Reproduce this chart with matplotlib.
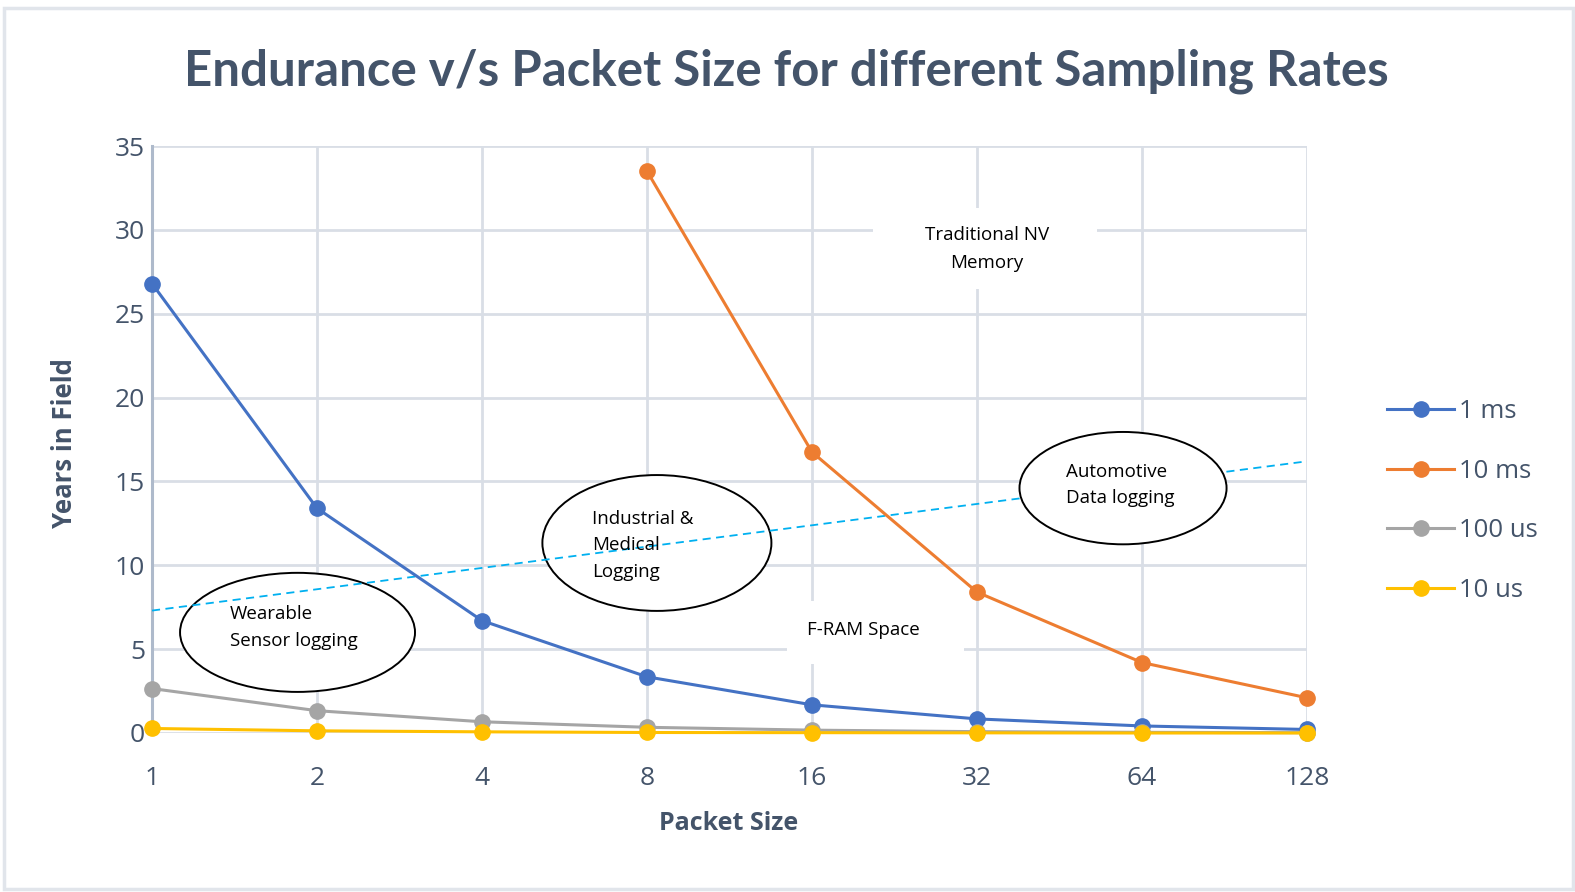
import numpy as np
import matplotlib
matplotlib.use("Agg")
import matplotlib.pyplot as plt
from matplotlib.patches import Ellipse, Rectangle
from matplotlib import font_manager

# ---------------- data ----------------
packet_sizes = ["1", "2", "4", "8", "16", "32", "64", "128"]
series_names = ["1 ms", "10 ms", "100 us", "10 us"]
years_1ms = [26.8, 13.4, 6.7, 3.35, 1.68, 0.84, 0.42, 0.21]
years_10ms = [np.nan, np.nan, np.nan, 33.5, 16.75, 8.4, 4.2, 2.1]
years_100us = [2.65, 1.33, 0.67, 0.34, 0.17, 0.08, 0.04, 0.02]
years_10us = [0.27, 0.13, 0.07, 0.03, 0.02, 0.01, 0.0, 0.0]
series_colors = ["#4472C4", "#ED7D31", "#A5A5A5", "#FFC000"]
y_ticks = [0, 5, 10, 15, 20, 25, 30, 35]

# boundary line (annotation) between F-RAM space and traditional NV memory
boundary_y = [7.3, 16.2]

title = "Endurance v/s Packet Size for different Sampling Rates"
xlabel = "Packet Size"
ylabel = "Years in Field"

# ---------------- fonts ----------------
avail = {f.name for f in font_manager.fontManager.ttflist}
title_font = "Liberation Sans Narrow" if "Liberation Sans Narrow" in avail else "Lato"
body_font = "Open Sans" if "Open Sans" in avail else "DejaVu Sans"
plt.rcParams["font.family"] = [body_font, "DejaVu Sans"]

axis_text = "#44546A"
grid_col = "#D9DEE6"

fig = plt.figure(figsize=(15.75, 8.92), dpi=100)
fig.patch.set_facecolor("white")

# outer chart border
fig.patches.append(Rectangle((4 / 1575, 1 - 889 / 892), (1573 - 4) / 1575, (889 - 8) / 892,
                             transform=fig.transFigure, fill=False,
                             edgecolor="#E1E5EB", linewidth=2.5, zorder=0))

ax = fig.add_axes([152 / 1575, 1 - 733 / 892, (1307 - 152) / 1575, (733 - 146) / 892])
x = np.arange(len(packet_sizes))

all_series = [years_1ms, years_10ms, years_100us, years_10us]
handles = []
for name, vals, col in zip(series_names, all_series, series_colors):
    h, = ax.plot(x, vals, color=col, lw=2.2, marker="o", markersize=11,
                 markeredgecolor=col, label=name, zorder=5, clip_on=False)
    handles.append(h)

ax.set_xlim(0, len(packet_sizes) - 1)
ax.set_ylim(0, 35)
ax.set_xticks(x)
ax.set_xticklabels(packet_sizes)
ax.set_yticks(y_ticks)
ax.tick_params(axis="both", length=0, labelsize=19, colors=axis_text)
ax.tick_params(axis="x", pad=24)
ax.tick_params(axis="y", pad=5)
ax.grid(True, color=grid_col, lw=2.0, zorder=0)
ax.set_axisbelow(True)
for s in ["top", "right", "bottom"]:
    ax.spines[s].set_visible(False)
ax.spines["left"].set_color("#AEBACB")
ax.spines["left"].set_linewidth(2.2)
ax.spines["left"].set_zorder(1)

# ellipses (annotation shapes)
ell_specs = [
    # (cx, cy, w, h, zorder)
    (0.882, 6.0, 1.424, 7.1, 2),
    (3.06, 11.33, 1.388, 8.1, 2),
    (5.885, 14.6, 1.255, 6.7, 4),
]
for cx, cy, w, h, z in ell_specs:
    ax.add_patch(Ellipse((cx, cy), w, h, facecolor="white", edgecolor="black",
                         lw=1.4, zorder=z))

# dashed boundary line
ax.plot([0, len(packet_sizes) - 1], boundary_y, color="#00B0F0", lw=1.3,
        ls=(0, (4.5, 3)), zorder=3)

# white text boxes
ax.add_patch(Rectangle((4.37, 26.5), 1.36, 4.8, facecolor="white", edgecolor="none", zorder=1.5))
ax.add_patch(Rectangle((3.85, 4.1), 1.07, 3.75, facecolor="white", edgecolor="none", zorder=1.5))

txt_kw = dict(color="black", fontsize=13.5, zorder=6, family=[body_font, "DejaVu Sans"])
ax.text(0.473, 6.3, "Wearable\nSensor logging", ha="left", va="center", linespacing=1.6, **txt_kw)
ax.text(2.665, 11.2, "Industrial &\nMedical\nLogging", ha="left", va="center", linespacing=1.6, **txt_kw)
ax.text(5.539, 14.8, "Automotive\nData logging", ha="left", va="center", linespacing=1.6, **txt_kw)
ax.text(5.059, 28.85, "Traditional NV\nMemory", ha="center", va="center", linespacing=1.7, **txt_kw)
ax.text(4.31, 6.15, "F-RAM Space", ha="center", va="center", **txt_kw)

# legend
leg = fig.legend(handles=handles, labels=series_names, loc="center left",
                 bbox_to_anchor=(1364 / 1575, 1 - 501 / 892), frameon=False,
                 fontsize=18.5, labelcolor=axis_text, handlelength=2.6,
                 handletextpad=0.2, labelspacing=1.35)

# titles / labels
fig.text(786 / 1575, 1 - 71 / 892, title, ha="center", va="center", fontsize=35.4,
         fontweight="bold", color=axis_text, family=[title_font, "DejaVu Sans"])
fig.text(729 / 1575, 1 - 824 / 892, xlabel, ha="center", va="center", fontsize=18,
         fontweight="bold", color=axis_text)
fig.text(65 / 1575, 1 - 443 / 892, ylabel, ha="center", va="center", fontsize=18.5,
         fontweight="bold", color=axis_text, rotation=90)

fig.savefig("out.png", dpi=100, facecolor="white")
